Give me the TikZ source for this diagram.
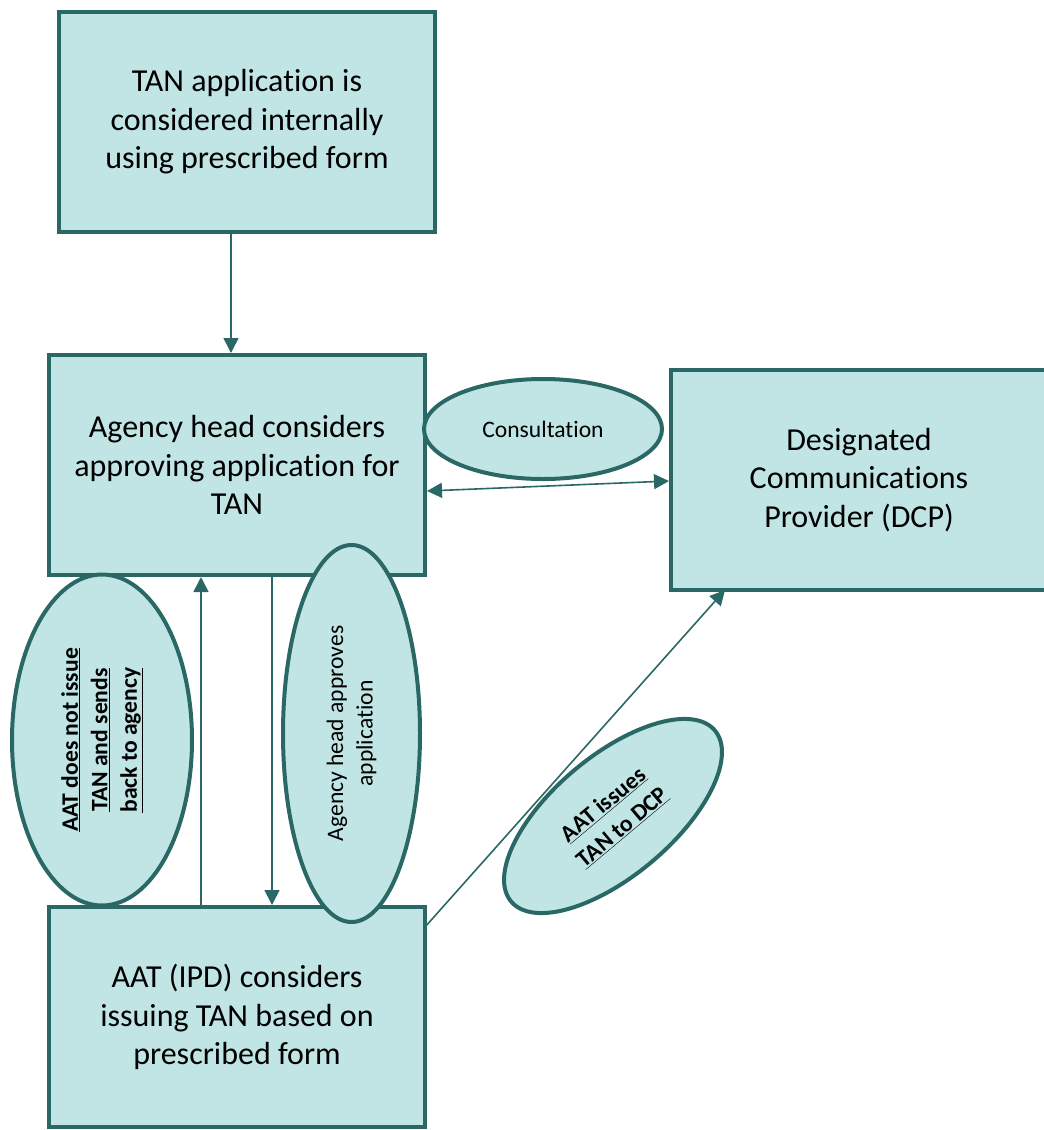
\documentclass[tikz,border=0pt]{standalone}
\usepackage{fontspec}
\setmainfont{Carlito}[RawFeature={-liga;-clig;-dlig}]
\usetikzlibrary{arrows.meta,shapes.geometric}
\definecolor{tealfill}{RGB}{193,229,229}
\definecolor{tealline}{RGB}{42,104,102}
\newcommand{\bigtxt}{\fontsize{32pt}{38.5pt}\selectfont}
\newcommand{\smalltxt}{\fontsize{23.6pt}{29.5pt}\selectfont}

\begin{document}
\begin{tikzpicture}[x=1pt,y=-1pt,
  box/.style={draw=tealline,fill=tealfill,line width=4pt,rectangle,minimum width=376pt,minimum height=220pt,align=center,font=\bigtxt,inner sep=0pt},
  oval/.style={draw=tealline,fill=tealfill,line width=4pt,ellipse,align=center,font=\smalltxt,inner sep=0pt},
  arr/.style={draw=tealline,line width=1.6pt,-{Triangle[length=15pt,width=15pt]}}]
\useasboundingbox (0,0) rectangle (1044,1130);
\node[box] (form) at (247,122) {TAN application is\\considered internally\\using prescribed form};
\node[box] (agency) at (237,465) {Agency head considers\\approving application for\\TAN};
\node[box] (dcp) at (859,480) {Designated\\Communications\\Provider (DCP)};
\node[box] (aat) at (237,1017) {AAT (IPD) considers\\issuing TAN based on\\prescribed form};
\draw[arr] ([xshift=-16pt]form.south) -- ([xshift=-6pt]agency.north);
\draw[arr,{Triangle[length=15pt,width=15pt]}-{Triangle[length=15pt,width=15pt]}] ([yshift=-26pt]agency.east) -- ([yshift=-1pt]dcp.west);
\draw[arr] ([xshift=-36pt]aat.north) -- ([xshift=-36pt]agency.south);
\draw[arr] ([xshift=35pt]agency.south) -- ([xshift=35pt]aat.north);
\draw[arr] ([xshift=-2pt,yshift=-22pt]aat.north east) -- ([xshift=-134pt,yshift=2pt]dcp.south);
\node[oval,minimum width=238pt,minimum height=100pt] (consult) at (543,429) {Consultation};
\node[oval,rotate=90,minimum width=331pt,minimum height=180pt] (refuse) at (102,740) {\bfseries\underline{AAT does not issue}\\\bfseries\underline{TAN and sends}\\\bfseries\underline{back to agency}};
\node[oval,rotate=90,minimum width=377pt,minimum height=137pt] (approve) at (351.5,733.5) {Agency head approves\\application};
\node[oval,rotate=40,minimum width=266pt,minimum height=120pt] (issue) at (613,816) {\bfseries\underline{AAT issues}\\\bfseries\underline{TAN to DCP}};
\end{tikzpicture}
\end{document}
